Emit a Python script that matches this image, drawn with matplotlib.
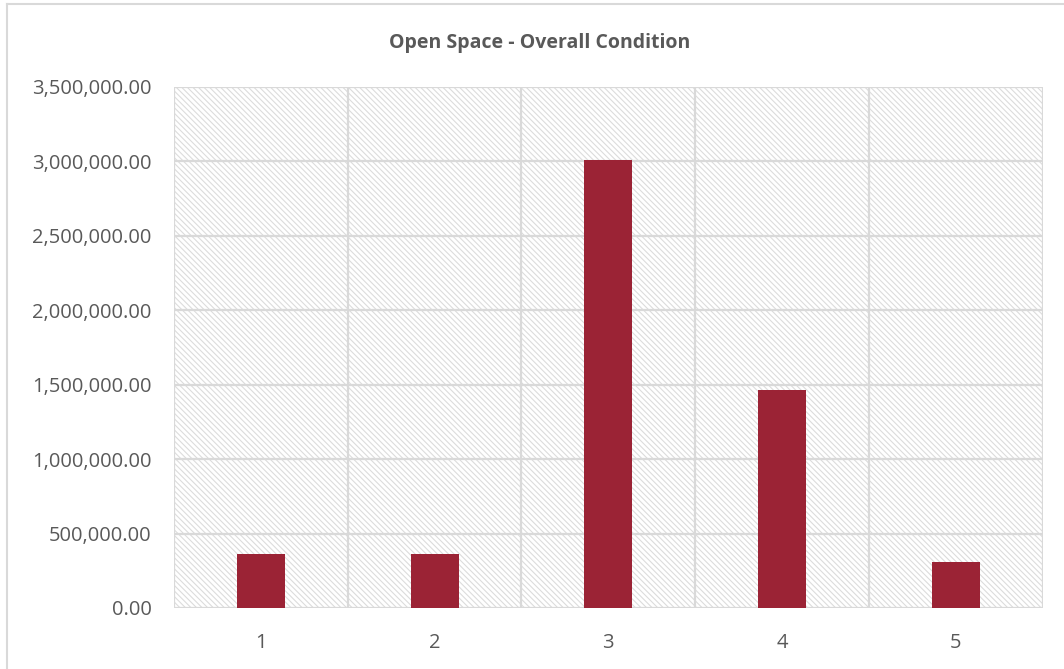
import matplotlib.pyplot as plt
from matplotlib.patches import Rectangle
from matplotlib.ticker import FuncFormatter
from matplotlib.lines import Line2D

conditions = [1, 2, 3, 4, 5]
areas = [360000, 360000, 3012000, 1465000, 310000]
y_ticks = [0, 500000, 1000000, 1500000, 2000000, 2500000, 3000000, 3500000]

bar_color = '#9b2335'
grid_color = '#d9d9d9'
text_color = '#595959'

plt.rcParams['font.family'] = ['Open Sans', 'DejaVu Sans']
plt.rcParams['hatch.linewidth'] = 0.8

fig = plt.figure(figsize=(10.64, 6.69), dpi=100)
ax = fig.add_axes([0.1635, 0.0912, 0.8165, 0.7788])

# hatched plot area background
bg = Rectangle((0, 0), 1, 1, transform=ax.transAxes, facecolor='white',
               edgecolor='#dcdcdc', hatch='\\' * 6, lw=0, zorder=0)
ax.add_patch(bg)

for y in y_ticks:
    ax.axhline(y, color=grid_color, lw=1.6, zorder=1)
for x in [c + 0.5 for c in [0] + conditions]:
    ax.axvline(x, color=grid_color, lw=1.6, zorder=1)

ax.bar(conditions, areas, width=0.276, color=bar_color, zorder=3)

ax.set_xlim(0.5, 5.5)
ax.set_ylim(0, 3500000)
ax.set_xticks(conditions)
ax.set_yticks(y_ticks)
ax.yaxis.set_major_formatter(FuncFormatter(lambda v, p: f'{v:,.2f}'))
ax.tick_params(length=0, labelsize=14.5, labelcolor=text_color)
ax.tick_params(axis='y', pad=16)
ax.tick_params(axis='x', pad=18)
for s in ax.spines.values():
    s.set_visible(False)

ax.set_title('Open Space - Overall Condition', fontsize=14, fontweight='bold',
             color=text_color, pad=28, x=(540 - 174) / 869)

# chart frame
fig.add_artist(Line2D([7 / 1064, 7 / 1064], [0, 1 - 4 / 669], color=grid_color,
                      lw=1.5, transform=fig.transFigure))
fig.add_artist(Line2D([7 / 1064, 1], [1 - 4 / 669, 1 - 4 / 669], color=grid_color,
                      lw=1.5, transform=fig.transFigure))

fig.savefig('out.png', dpi=100)
